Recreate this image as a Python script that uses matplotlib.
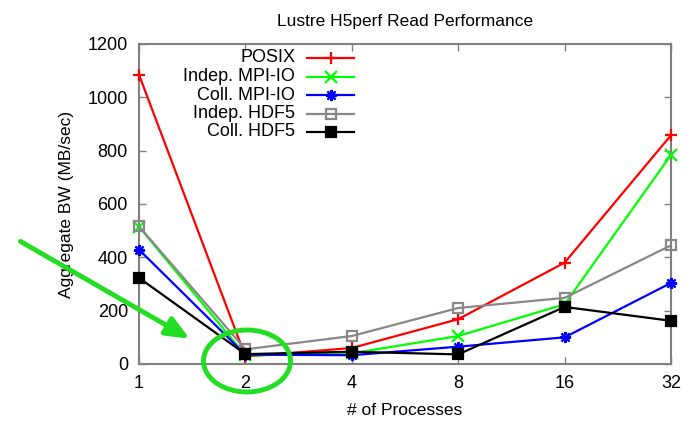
import matplotlib.pyplot as plt
from matplotlib.patches import Ellipse

plt.rcParams['font.family'] = ['Liberation Sans', 'DejaVu Sans']

# Data
procs = [1, 2, 4, 8, 16, 32]
tick_labels = ['1', '2', '4', '8', '16', '32']
posix = [1085, 28, 60, 168, 380, 858]
indep_mpiio = [515, 32, 40, 105, 224, 784]
coll_mpiio = [429, 35, 33, 65, 100, 304]
indep_hdf5 = [516, 55, 105, 210, 248, 445]
coll_hdf5 = [323, 37, 46, 36, 214, 162]

series = [
    ('POSIX', posix, '#ff0000', '+', 'full', 9),
    ('Indep. MPI-IO', indep_mpiio, '#00ff00', 'x', 'full', 8),
    ('Coll. MPI-IO', coll_mpiio, '#0000ff', (8, 2, 0), 'full', 8),
    ('Indep. HDF5', indep_hdf5, '#888888', 's', 'none', 6.5),
    ('Coll. HDF5', coll_hdf5, '#000000', 's', 'full', 6.5),
]

fig = plt.figure(figsize=(6.92, 4.21), dpi=100)
W, H = 692, 421
ax = fig.add_axes([139 / W, (H - 364) / H, (671 - 139) / W, (364 - 44) / H])

for name, vals, col, mk, fill, ms in series:
    ax.plot(procs, vals, color=col, lw=1.6, marker=mk, ms=ms, mew=1.6,
            markerfacecolor=(col if fill == 'full' else 'none'),
            clip_on=False, zorder=3)

ax.set_xscale('log', base=2)
ax.set_xlim(1, 32)
ax.set_ylim(0, 1200)
ax.set_xticks(procs)
ax.set_xticklabels(tick_labels)
ax.minorticks_off()
ax.set_yticks(range(0, 1201, 200))
ax.tick_params(direction='in', top=True, right=True, length=5, width=1,
               color='#808080', labelsize=13, pad=8)
for sp in ax.spines.values():
    sp.set_color('#808080')
    sp.set_linewidth(1.5)

ax.set_title('Lustre H5perf Read Performance', fontsize=12.5, pad=13)
ax.set_xlabel('# of Processes', fontsize=12.5, labelpad=8)
ax.set_ylabel('Aggregate BW (MB/sec)', fontsize=12.5, labelpad=10)

# legend drawn gnuplot-style: label right-aligned, sample line to the right
x_txt, x0, x1 = (295 - 139) / 532, (307 - 139) / 532, (354 - 139) / 532
for i, (name, vals, col, mk, fill, ms) in enumerate(series):
    yy = 1 - (58 + i * 18.5 - 44) / 320
    ax.text(x_txt, yy, name, ha='right', va='center', fontsize=13,
            transform=ax.transAxes)
    ax.plot([x0, x1], [yy, yy], color=col, lw=1.6, transform=ax.transAxes)
    ax.plot([(x0 + x1) / 2], [yy], color=col, marker=mk, ms=ms, mew=1.6,
            markerfacecolor=(col if fill == 'full' else 'none'),
            transform=ax.transAxes)

# green annotation: arrow and ellipse
fig.add_artist(plt.Annotation('', xy=(192 / W, 1 - 340 / H), xytext=(18 / W, 1 - 240 / H),
                              xycoords='figure fraction', textcoords='figure fraction',
                              arrowprops=dict(arrowstyle='-|>,head_length=1.4,head_width=0.6',
                                              color='#22dd22', lw=3.5)))
fig.add_artist(Ellipse((247 / W, 1 - 361 / H), 87 / W, 62 / H, fill=False,
                       edgecolor='#22dd22', lw=3.5, transform=fig.transFigure))

fig.savefig('out.png', dpi=100)
